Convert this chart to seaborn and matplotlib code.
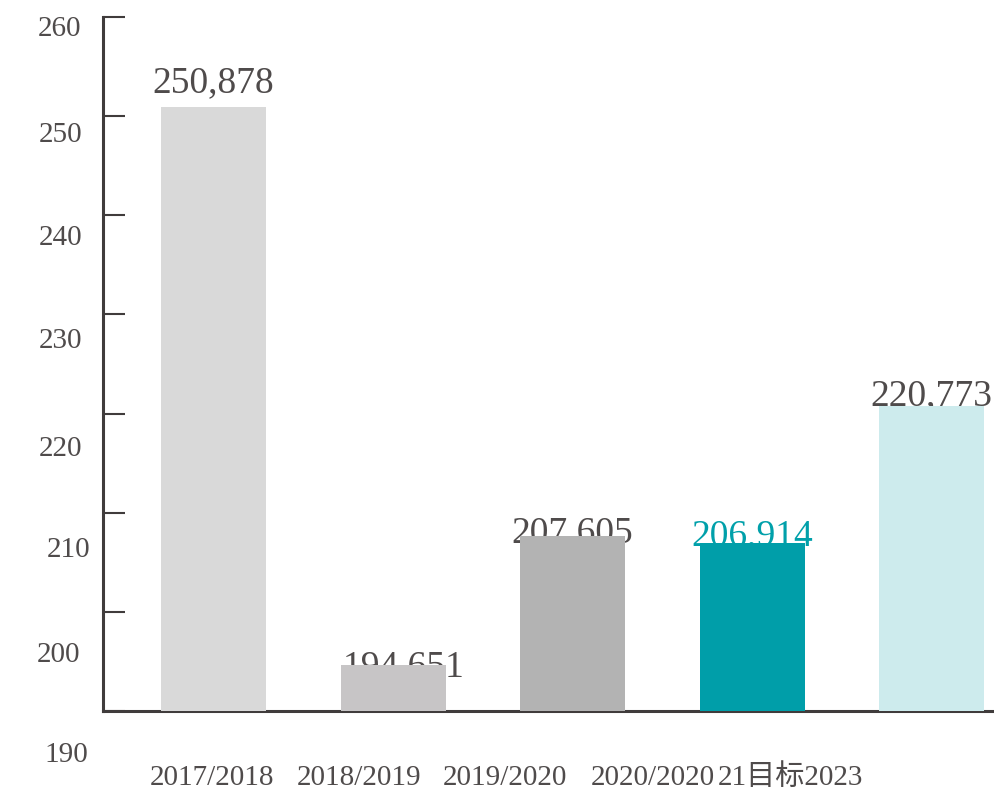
import matplotlib
matplotlib.use("Agg")
import matplotlib.pyplot as plt
import seaborn as sns
import pandas as pd

# ---- data ----
periods = ["2017/2018", "2018/2019", "2019/2020", "2020/2021", "目标2023"]
values = [250.878, 194.651, 207.605, 206.914, 220.773]
bar_colors = ["#d9d9d9", "#c7c5c6", "#b3b3b3", "#009ea9", "#cdebed"]
y_ticks = [190, 200, 210, 220, 230, 240, 250, 260]
x_texts = ["2017/2018", "2018/2019", "2019/2020", "2020/2020", "21目标2023"]

# ---- layout (figure pixels) ----
W, H = 994, 793
label_dx = [0, 11, 0, 0, 0]          # horizontal nudge of value labels
label_dy = [15, -11, -6, -2, 1]      # baseline offset from bar top
ytext_right = [88, 80, 90, 82, 82, 82, 82, 81]
ytext_base = [762, 662, 557, 456, 348, 245, 142, 36]
xtext_center = [212, 359, 505, 653, 790]
xtext_base = 785

TEXT = "#4f4b4b"
SPINE = "#403c3c"
TEAL_TEXT = "#00a0aa"

sns.set_theme(style="white")
plt.rcParams["font.family"] = ["Liberation Serif", "Noto Sans CJK SC"]

df = pd.DataFrame({"period": periods, "value": values})

fig = plt.figure(figsize=(W / 100, H / 100), dpi=100)
ax = fig.add_axes([103 / W, (H - 711) / H, (994 - 103) / W, (711 - 17) / H])

sns.barplot(data=df, x="period", y="value", hue="period", palette=bar_colors,
            width=0.585, saturation=1, legend=False, ax=ax, zorder=2,
            linewidth=0, edgecolor="none")

ax.set_ylim(190, 260)
ax.set_xlim(-0.6156, 4.348)
ax.set_yticks(y_ticks)
ax.set_xticks([])
ax.set_xlabel("")
ax.set_ylabel("")
ax.tick_params(axis="y", direction="in", length=16, width=1.5, color=SPINE,
               labelleft=False, left=True)

for side in ["top", "right"]:
    ax.spines[side].set_visible(False)
for side in ["left", "bottom"]:
    ax.spines[side].set_color(SPINE)
    ax.spines[side].set_linewidth(2.2)
    ax.spines[side].set_zorder(1.5)

# value labels above / behind the bar tops
for i, v in enumerate(values):
    txt = f"{v:.3f}".replace(".", ",")
    color = TEAL_TEXT if i == 3 else TEXT
    ax.annotate(txt, xy=(i, v), xytext=(label_dx[i], label_dy[i]),
                textcoords="offset pixels", ha="center", va="baseline",
                fontsize=27, color=color, zorder=1, annotation_clip=False)

# y axis numbers
for v, xr, yb in zip(y_ticks, ytext_right, ytext_base):
    fig.text(xr / W, (H - yb) / H, str(v), ha="right", va="baseline",
             fontsize=21, color=TEXT)

# category names under the axis
for t, xc in zip(x_texts, xtext_center):
    fig.text(xc / W, (H - xtext_base) / H, t, ha="center", va="baseline",
             fontsize=21, color=TEXT)

fig.savefig("out.png", dpi=100)
